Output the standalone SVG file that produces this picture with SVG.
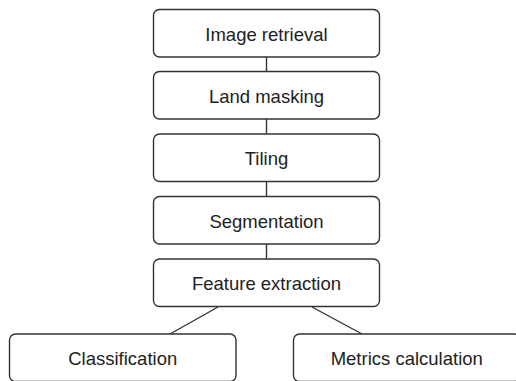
<svg xmlns="http://www.w3.org/2000/svg" width="516" height="381" viewBox="0 0 516 381">
<style>
.box{fill:#fff;stroke:#333;stroke-width:1.4}
.lbl{font-family:"Liberation Sans",Arial,sans-serif;font-size:18.5px;fill:#222;text-anchor:middle}
.conn{stroke:#333;stroke-width:1.4;fill:none}
</style>
<rect width="516" height="381" fill="#fff"/>
<g id="connectors">
<line class="conn" x1="266.5" y1="57" x2="266.5" y2="71.5"/>
<line class="conn" x1="266.5" y1="119" x2="266.5" y2="133.5"/>
<line class="conn" x1="266.5" y1="182" x2="266.5" y2="196"/>
<line class="conn" x1="266.5" y1="244" x2="266.5" y2="258.5"/>
<line class="conn" x1="218" y1="307" x2="170" y2="334"/>
<line class="conn" x1="312" y1="307" x2="362" y2="334"/>
</g>
<g id="n1"><rect class="box" x="153.5" y="9.5" width="226" height="47.5" rx="6"/><text class="lbl" x="266.5" y="40.5">Image retrieval</text></g>
<g id="n2"><rect class="box" x="153.5" y="71.5" width="226" height="47.5" rx="6"/><text class="lbl" x="266.5" y="102.5">Land masking</text></g>
<g id="n3"><rect class="box" x="153.5" y="134" width="226" height="47.5" rx="6"/><text class="lbl" x="266.5" y="165">Tiling</text></g>
<g id="n4"><rect class="box" x="153.5" y="196.5" width="226" height="47.5" rx="6"/><text class="lbl" x="266.5" y="227.5">Segmentation</text></g>
<g id="n5"><rect class="box" x="153.5" y="259" width="226" height="47.5" rx="6"/><text class="lbl" x="266.5" y="290">Feature extraction</text></g>
<g id="n6"><rect class="box" x="9.5" y="334" width="226.5" height="47.5" rx="6"/><text class="lbl" x="122.75" y="365">Classification</text></g>
<g id="n7"><rect class="box" x="293.5" y="334" width="226.5" height="47.5" rx="6"/><text class="lbl" x="406.75" y="365">Metrics calculation</text></g>
</svg>
